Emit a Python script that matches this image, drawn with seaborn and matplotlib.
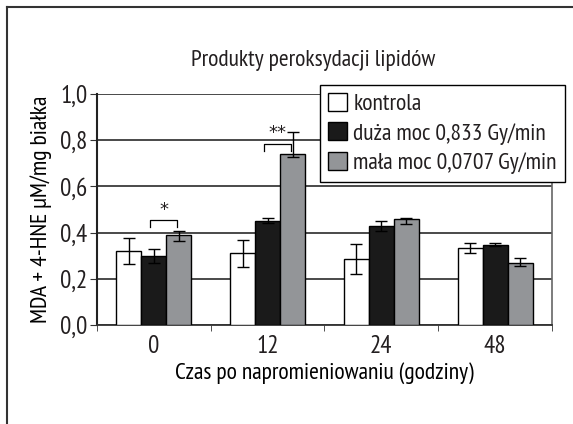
import matplotlib
matplotlib.use("Agg")
import matplotlib.pyplot as plt
import matplotlib.lines as mlines
import numpy as np
import pandas as pd
import seaborn as sns

# Data
czas = ["0", "12", "24", "48"]
grupy = ["kontrola", "duża moc 0,833 Gy/min", "mała moc 0,0707 Gy/min"]
kontrola = [0.32, 0.31, 0.285, 0.335]
duza = [0.30, 0.452, 0.428, 0.347]
mala = [0.39, 0.74, 0.457, 0.267]
# error bars (lower, upper)
kontrola_err_lo = [0.057, 0.057, 0.064, 0.022]
kontrola_err_hi = [0.057, 0.057, 0.064, 0.022]
duza_err_lo = [0.03, 0.012, 0.02, 0.007]
duza_err_hi = [0.03, 0.012, 0.02, 0.007]
mala_err_lo = [0.028, 0.015, 0.022, 0.01]
mala_err_hi = [0.016, 0.097, 0.006, 0.021]
# significance brackets: (group index, height, label)
istotnosc = [(0, 0.455, "*"), (1, 0.785, "**")]

kolory = ["#ffffff", "#1a1a1a", "#939598"]

df = pd.DataFrame({
    "czas": czas * 3,
    "grupa": [g for g in grupy for _ in czas],
    "wartosc": kontrola + duza + mala,
})

plt.rcParams["font.family"] = ["PT Sans Narrow", "DejaVu Sans"]
plt.rcParams["text.color"] = "#231f20"

fig = plt.figure(figsize=(5.73, 4.24), dpi=100)
ax = fig.add_axes([0.1693, 0.2335, 0.794, 0.545])

sns.barplot(data=df, x="czas", y="wartosc", hue="grupa", palette=kolory,
            edgecolor="black", linewidth=1, errorbar=None, width=0.66,
            saturation=1, ax=ax, zorder=3)

# error bars from bar positions
errs = [(kontrola_err_lo, kontrola_err_hi), (duza_err_lo, duza_err_hi), (mala_err_lo, mala_err_hi)]
centers = []
for cont, (lo, hi) in zip(ax.containers, errs):
    xs = [p.get_x() + p.get_width() / 2 for p in cont.patches]
    ys = [p.get_height() for p in cont.patches]
    centers.append(xs)
    ax.errorbar(xs, ys, yerr=[lo, hi], fmt="none", ecolor="black",
                elinewidth=1, capsize=4, capthick=1, zorder=4)

# significance brackets between duza and mala
for gi, h, lab in istotnosc:
    x1 = centers[1][gi] - 1 / 30
    x2 = centers[2][gi] - 1 / 60
    ax.plot([x1, x1, x2, x2], [h - 0.03, h, h, h - 0.03], color="black", lw=0.9, zorder=4)
    ax.text((x1 + x2) / 2, h + 0.005, lab, ha="center", va="bottom", fontsize=13,
            family="DejaVu Sans")

ax.set_ylim(0, 1.0)
ax.set_xlim(-0.5, 3.5)
ax.set_yticks(np.arange(0, 1.01, 0.2))
ax.set_yticklabels([f"{v:.1f}".replace(".", ",") for v in np.arange(0, 1.01, 0.2)])
ax.set_xticks(range(4))
ax.set_xticks([-0.5, 0.5, 1.5, 2.5, 3.5], minor=True)
ax.tick_params(axis="x", which="major", length=0, labelsize=18, pad=7, labelcolor="#231f20")
ax.tick_params(axis="x", which="minor", length=4, direction="out", color="#333333")
ax.tick_params(axis="y", length=5, direction="out", labelsize=18, color="#333333", pad=2,
               labelcolor="#231f20")
ax.yaxis.grid(True, color="#3a3a3a", lw=1.3, zorder=0)
ax.set_axisbelow(True)
ax.spines["top"].set_visible(False)
ax.spines["left"].set_color("#222222")
ax.spines["left"].set_linewidth(1.5)
ax.spines["bottom"].set_color("#333333")
ax.spines["bottom"].set_linewidth(1.3)
ax.spines["right"].set_color("#666666")
ax.spines["right"].set_linewidth(1.2)

ax.set_xlabel("Czas po napromieniowaniu (godziny)", fontsize=17, labelpad=3)
ax.set_ylabel("MDA + 4-HNE µM/mg białka", fontsize=17, labelpad=6)
fig.text(0.547, 0.858, "Produkty peroksydacji lipidów", ha="center", va="center", fontsize=17)

leg = ax.legend(loc="upper right", bbox_to_anchor=(0.986, 0.8), bbox_transform=fig.transFigure,
                fontsize=17, frameon=True, fancybox=False, edgecolor="black",
                handlelength=0.8, handleheight=0.8, handletextpad=0.25,
                labelspacing=0.3, borderpad=0.35, borderaxespad=0)
leg.get_frame().set_linewidth(1)
leg.get_frame().set_alpha(1)
for h in leg.legend_handles:
    h.set_edgecolor("black")

# outer frame (top and left edges)
fig.add_artist(mlines.Line2D([6.5 / 573, 6.5 / 573], [0, 1 - 6.5 / 424], color="#333333", lw=1.5))
fig.add_artist(mlines.Line2D([6.5 / 573, 1], [1 - 6.5 / 424, 1 - 6.5 / 424], color="#333333", lw=1.5))

fig.savefig("out.png", dpi=100)
